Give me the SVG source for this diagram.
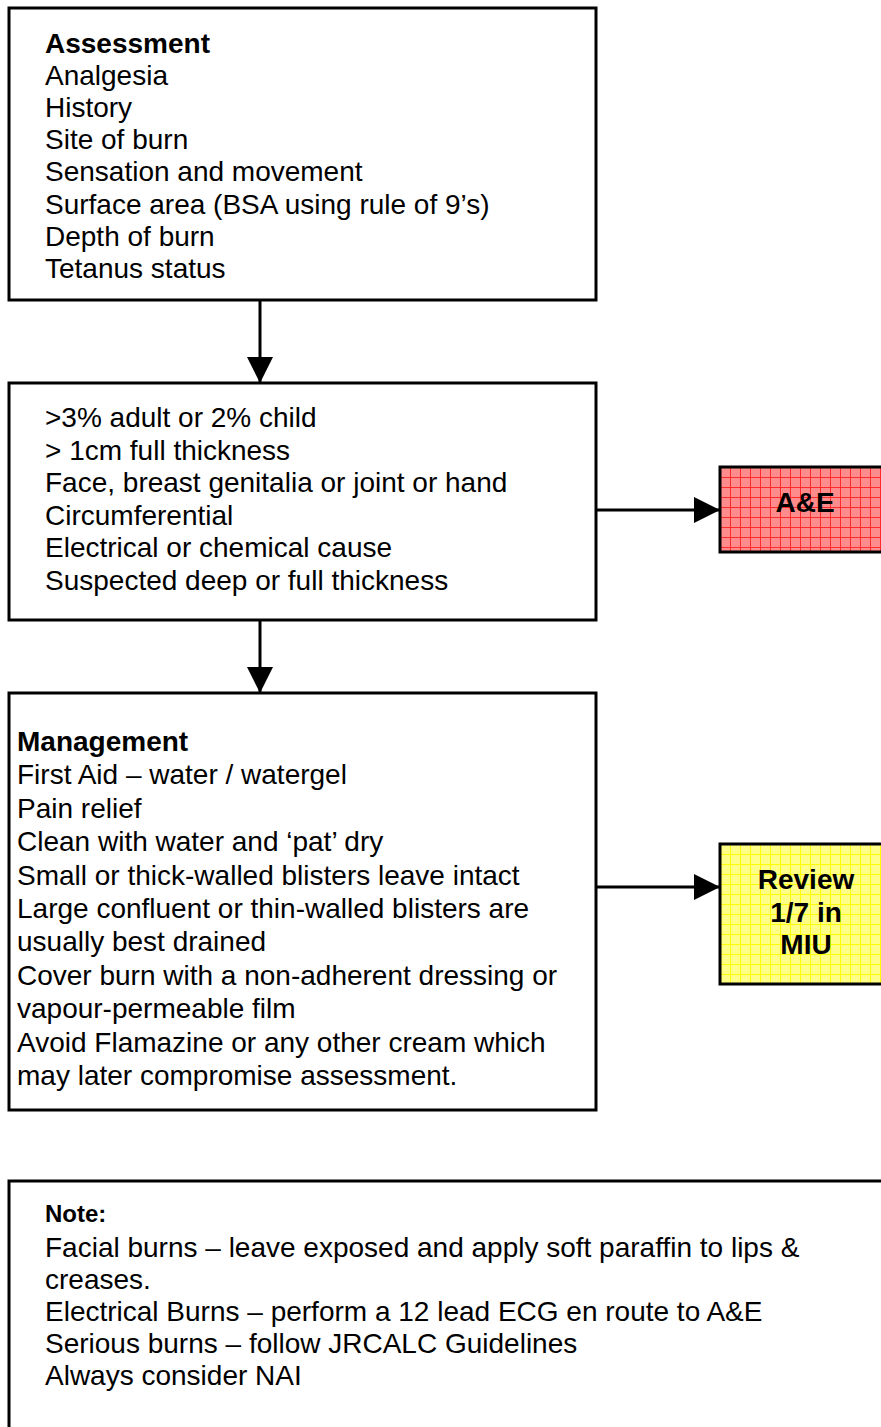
<svg xmlns="http://www.w3.org/2000/svg" width="881" height="1427" viewBox="0 0 881 1427">
<style>
.box{fill:#fff;stroke:#000;stroke-width:3}
.t{font-family:"Liberation Sans",Arial,sans-serif;font-size:28px;fill:#000}
.b{font-weight:bold}
.c{text-anchor:middle}
.conn{stroke:#000;stroke-width:3;fill:none}
</style>
<defs>
<pattern id="redgrid" width="10" height="10" patternUnits="userSpaceOnUse" x="720" y="467">
<rect width="10" height="10" fill="#ff8c8c"/>
<path d="M0 0.5H10M0.5 0V10" stroke="#ff2a2a" stroke-width="1"/>
</pattern>
<pattern id="yelgrid" width="10" height="10" patternUnits="userSpaceOnUse" x="720" y="844">
<rect width="10" height="10" fill="#ffff88"/>
<path d="M0 0.5H10M0.5 0V10" stroke="#ffff00" stroke-width="1"/>
</pattern>
<marker id="arr" viewBox="0 0 26 26" refX="26" refY="13" markerWidth="26" markerHeight="26" markerUnits="userSpaceOnUse" orient="auto">
<path d="M0 0L26 13L0 26Z" fill="#000"/>
</marker>
</defs>
<g id="assessment">
<rect class="box" x="9" y="8" width="587" height="292"/>
<text class="t b" x="45" y="53">Assessment</text>
<text class="t" x="45" y="85">Analgesia</text>
<text class="t" x="45" y="117">History</text>
<text class="t" x="45" y="149">Site of burn</text>
<text class="t" x="45" y="181">Sensation and movement</text>
<text class="t" x="45" y="214">Surface area (BSA using rule of 9’s)</text>
<text class="t" x="45" y="246">Depth of burn</text>
<text class="t" x="45" y="278">Tetanus status</text>
</g>
<g id="criteria">
<rect class="box" x="9" y="383" width="587" height="237"/>
<text class="t" x="45" y="427">&gt;3% adult or 2% child</text>
<text class="t" x="45" y="460">&gt; 1cm full thickness</text>
<text class="t" x="45" y="492">Face, breast genitalia or joint or hand</text>
<text class="t" x="45" y="525">Circumferential</text>
<text class="t" x="45" y="557">Electrical or chemical cause</text>
<text class="t" x="45" y="590">Suspected deep or full thickness</text>
</g>
<g id="ae">
<rect x="720" y="467" width="172" height="85" fill="url(#redgrid)" stroke="#000" stroke-width="3"/>
<text class="t b c" x="805" y="512">A&amp;E</text>
</g>
<g id="management">
<rect class="box" x="9" y="693" width="587" height="417"/>
<text class="t b" x="17" y="751">Management</text>
<text class="t" x="17" y="784">First Aid – water / watergel</text>
<text class="t" x="17" y="818">Pain relief</text>
<text class="t" x="17" y="851">Clean with water and ‘pat’ dry</text>
<text class="t" x="17" y="885">Small or thick-walled blisters leave intact</text>
<text class="t" x="17" y="918">Large confluent or thin-walled blisters are</text>
<text class="t" x="17" y="951">usually best drained</text>
<text class="t" x="17" y="985">Cover burn with a non-adherent dressing or</text>
<text class="t" x="17" y="1018">vapour-permeable film</text>
<text class="t" x="17" y="1052">Avoid Flamazine or any other cream which</text>
<text class="t" x="17" y="1085">may later compromise assessment.</text>
</g>
<g id="review">
<rect x="720" y="844" width="172" height="140" fill="url(#yelgrid)" stroke="#000" stroke-width="3"/>
<text class="t b c" x="806" y="889">Review</text>
<text class="t b c" x="806" y="922">1/7 in</text>
<text class="t b c" x="806" y="954">MIU</text>
</g>
<g id="note">
<rect class="box" x="9" y="1181" width="900" height="300"/>
<text class="t b" x="45" y="1222" style="font-size:24px">Note:</text>
<text class="t" x="45" y="1257">Facial burns – leave exposed and apply soft paraffin to lips &amp;</text>
<text class="t" x="45" y="1289">creases.</text>
<text class="t" x="45" y="1321">Electrical Burns – perform a 12 lead ECG en route to A&amp;E</text>
<text class="t" x="45" y="1353">Serious burns – follow JRCALC Guidelines</text>
<text class="t" x="45" y="1385">Always consider NAI</text>
</g>
<g id="connectors">
<line class="conn" x1="260" y1="300" x2="260" y2="383" marker-end="url(#arr)"/>
<line class="conn" x1="260" y1="620" x2="260" y2="693" marker-end="url(#arr)"/>
<line class="conn" x1="596" y1="510" x2="720" y2="510" marker-end="url(#arr)"/>
<line class="conn" x1="596" y1="887" x2="720" y2="887" marker-end="url(#arr)"/>
</g>
</svg>
